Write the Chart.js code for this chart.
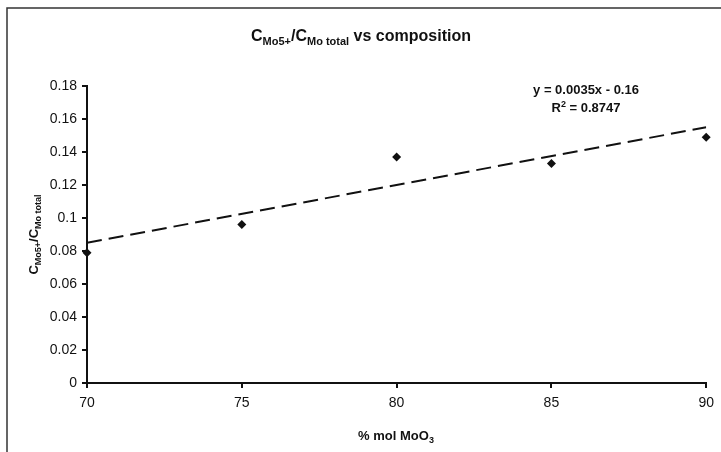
<!DOCTYPE html>
<html lang="en">
<head>
<meta charset="UTF-8">
<title>CMo5+/CMo total vs composition</title>
<script src="https://cdn.jsdelivr.net/npm/chart.js@4"></script>
<style>
    body { margin: 0; background: #fff; }
    #wrap { width: 721px; height: 452px; }
</style>
</head>
<body>
<div id="wrap"><canvas id="chart" width="721" height="452"></canvas></div>
<script>
// measured data (% mol MoO3 vs C_Mo5+/C_Mo total)
const xValues = [70, 75, 80, 85, 90];
const yValues = [0.079, 0.096, 0.137, 0.133, 0.149];
// linear trend line end points (y = 0.0035x - 0.16)
const trendX = [70, 90];
const trendY = [0.085, 0.155];
const equationText = 'y = 0.0035x - 0.16';
const r2Text = ' = 0.8747';

const FONT = '"Liberation Sans", Arial, sans-serif';

// draw text made of pieces, some as subscript / superscript, centred on x
function drawRich(ctx, parts, x, y, size) {
    const fontFor = p => 'bold ' + (p.sub || p.sup ? Math.round(size * 0.7) : size) + 'px ' + FONT;
    let total = 0;
    parts.forEach(p => { ctx.font = fontFor(p); total += ctx.measureText(p.t).width; });
    let cx = x - total / 2;
    ctx.textAlign = 'left';
    ctx.textBaseline = 'alphabetic';
    parts.forEach(p => {
        ctx.font = fontFor(p);
        let dy = p.sub ? size * 0.25 : (p.sup ? -size * 0.4 : 0);
        ctx.fillText(p.t, cx, y + dy);
        cx += ctx.measureText(p.t).width;
    });
}

const textPlugin = {
    id: 'textPlugin',
    afterDraw(chart) {
        const ctx = chart.ctx;
        const area = chart.chartArea;
        ctx.save();
        ctx.fillStyle = '#111';
        // outer frame
        ctx.strokeStyle = '#333';
        ctx.lineWidth = 1.5;
        ctx.strokeRect(7, 8, 800, 800);
        // title
        drawRich(ctx, [
            { t: 'C' }, { t: 'Mo5+', sub: true }, { t: '/C' }, { t: 'Mo total', sub: true }, { t: ' vs composition' }
        ], 361, 41, 16);
        // x title
        drawRich(ctx, [{ t: '% mol MoO' }, { t: '3', sub: true }], 396, 440, 13);
        // y title
        ctx.save();
        ctx.translate(38, (area.top + area.bottom) / 2);
        ctx.rotate(-Math.PI / 2);
        drawRich(ctx, [{ t: 'C' }, { t: 'Mo5+', sub: true }, { t: '/C' }, { t: 'Mo total', sub: true }], 0, 0, 13);
        ctx.restore();
        // trend equation
        drawRich(ctx, [{ t: equationText }], 586, 94, 13);
        drawRich(ctx, [{ t: 'R' }, { t: '2', sup: true }, { t: r2Text }], 586, 112, 13);
        ctx.restore();
    }
};

new Chart(document.getElementById('chart'), {
    type: 'scatter',
    data: {
        datasets: [
            {
                label: 'data',
                data: xValues.map((x, i) => ({ x: x, y: yValues[i] })),
                pointStyle: 'rectRot',
                pointRadius: 4.5,
                backgroundColor: '#111',
                borderColor: '#111',
                borderWidth: 0,
                showLine: false,
                clip: false
            },
            {
                label: 'trend',
                data: trendX.map((x, i) => ({ x: x, y: trendY[i] })),
                showLine: true,
                borderColor: '#111',
                borderWidth: 2,
                borderDash: [15, 7],
                pointRadius: 0,
                fill: false
            }
        ]
    },
    options: {
        responsive: false,
        animation: false,
        layout: { padding: { top: 86, right: 14, bottom: 0, left: 0 } },
        plugins: { legend: { display: false }, title: { display: false }, tooltip: { enabled: false } },
        scales: {
            x: {
                type: 'linear',
                min: 70, max: 90,
                ticks: { stepSize: 5, color: '#111', font: { family: FONT, size: 14 }, padding: 7 },
                grid: { drawOnChartArea: false, tickLength: 5, color: '#111', lineWidth: 2 },
                border: { color: '#111', width: 2 },
                afterFit: s => { s.height = 69; }
            },
            y: {
                min: 0, max: 0.18,
                ticks: {
                    stepSize: 0.02, color: '#111', font: { family: FONT, size: 14 }, padding: 5,
                    callback: v => String(+v.toFixed(2))
                },
                grid: { drawOnChartArea: false, tickLength: 5, color: '#111', lineWidth: 2 },
                border: { color: '#111', width: 2 },
                afterFit: s => { s.width = 87; }
            }
        }
    },
    plugins: [textPlugin]
});
</script>
</body>
</html>
